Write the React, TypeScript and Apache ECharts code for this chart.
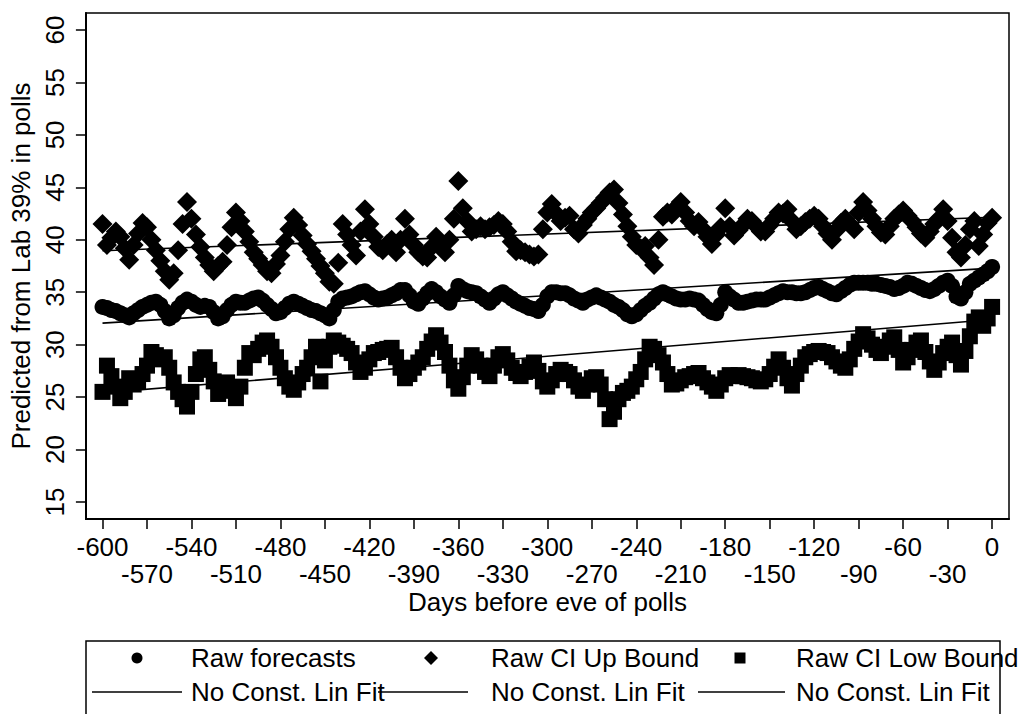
import React, { useEffect, useRef } from "react";
import * as echarts from "echarts";

// Days before eve of polls (every third day)
const days = [
  -600,-597,-594,-591,-588,-585,-582,-579,-576,-573,
  -570,-567,-564,-561,-558,-555,-552,-549,-546,-543,
  -540,-537,-534,-531,-528,-525,-522,-519,-516,-513,
  -510,-507,-504,-501,-498,-495,-492,-489,-486,-483,
  -480,-477,-474,-471,-468,-465,-462,-459,-456,-453,
  -450,-447,-444,-441,-438,-435,-432,-429,-426,-423,
  -420,-417,-414,-411,-408,-405,-402,-399,-396,-393,
  -390,-387,-384,-381,-378,-375,-372,-369,-366,-363,
  -360,-357,-354,-351,-348,-345,-342,-339,-336,-333,
  -330,-327,-324,-321,-318,-315,-312,-309,-306,-303,
  -300,-297,-294,-291,-288,-285,-282,-279,-276,-273,
  -270,-267,-264,-261,-258,-255,-252,-249,-246,-243,
  -240,-237,-234,-231,-228,-225,-222,-219,-216,-213,
  -210,-207,-204,-201,-198,-195,-192,-189,-186,-183,
  -180,-177,-174,-171,-168,-165,-162,-159,-156,-153,
  -150,-147,-144,-141,-138,-135,-132,-129,-126,-123,
  -120,-117,-114,-111,-108,-105,-102,-99,-96,-93,
  -90,-87,-84,-81,-78,-75,-72,-69,-66,-63,
  -60,-57,-54,-51,-48,-45,-42,-39,-36,-33,
  -30,-27,-24,-21,-18,-15,-12,-9,-6,-3,
  0
];

const rawForecasts = [
  33.6,33.5,33.3,33.2,33.0,32.8,32.6,33.0,33.3,33.6,
  33.8,34.0,34.1,33.8,33.2,32.5,32.8,33.5,34.0,34.3,
  34.1,33.8,33.6,33.7,33.6,33.1,32.5,32.7,33.3,33.8,
  34.1,34.0,34.0,34.2,34.4,34.5,34.2,33.8,33.4,33.0,
  33.1,33.5,33.9,34.1,33.9,33.7,33.5,33.3,33.2,33.0,
  32.8,32.5,33.3,34.1,34.4,34.5,34.6,34.8,35.0,35.1,
  34.8,34.5,34.3,34.4,34.5,34.7,34.9,35.2,35.2,34.7,
  34.1,33.9,34.4,34.9,35.3,35.0,34.6,34.3,34.0,34.7,
  35.6,35.3,35.1,35.0,34.9,34.6,34.3,34.0,34.4,34.8,
  35.0,34.7,34.4,34.1,33.9,33.7,33.5,33.4,33.2,33.8,
  34.6,35.0,35.0,34.9,34.9,34.7,34.4,34.2,34.0,34.3,
  34.5,34.7,34.5,34.3,34.1,33.8,33.6,33.3,32.9,32.7,
  32.9,33.3,33.7,34.0,34.4,34.8,35.0,34.8,34.6,34.4,
  34.3,34.3,34.4,34.3,34.2,33.8,33.4,33.1,33.0,33.8,
  35.0,34.6,34.3,34.0,34.0,34.1,34.2,34.3,34.3,34.3,
  34.5,34.7,34.9,35.1,35.0,35.0,34.9,34.9,35.0,35.2,
  35.4,35.5,35.3,35.1,34.9,34.8,35.1,35.4,35.7,35.9,
  35.9,35.9,35.9,35.8,35.8,35.7,35.6,35.5,35.3,35.4,
  35.6,35.9,35.8,35.6,35.4,35.2,35.1,35.3,35.6,35.9,
  36.1,35.6,34.6,34.4,35.0,35.8,36.1,36.4,36.7,37.0,
  37.4
];

const ciUpBound = [
  41.5,39.5,40.2,40.8,40.3,39.2,38.1,39.5,40.6,41.6,
  41.2,40.0,39.0,38.0,37.0,36.2,36.8,39.0,41.5,43.6,
  42.0,40.5,39.3,38.3,37.6,37.0,37.5,37.9,39.5,41.2,
  42.6,41.8,40.8,39.8,38.8,38.2,37.6,37.0,36.8,37.7,
  38.5,39.8,41.0,42.1,41.4,40.4,39.6,38.9,38.2,37.5,
  36.8,36.0,35.8,37.8,41.5,40.5,39.5,38.5,40.8,42.9,
  41.5,40.3,39.3,39.0,39.6,40.0,38.8,40.0,42.0,40.5,
  39.5,38.8,38.4,38.3,39.3,40.3,39.5,38.8,40.0,42.0,
  45.6,43.0,41.8,40.8,41.0,41.3,41.0,41.2,41.4,41.8,
  41.5,40.8,39.8,38.9,39.0,38.8,38.6,38.4,38.6,41.0,
  42.6,43.4,42.5,41.8,42.1,42.3,41.0,40.6,41.4,42.0,
  42.6,43.0,43.5,44.0,44.5,44.8,43.5,42.4,41.3,40.3,
  39.5,39.2,39.4,38.3,37.6,40.0,42.2,42.6,42.4,43.1,
  43.6,42.6,41.8,41.3,41.7,41.0,40.3,39.6,40.5,41.2,
  43.0,41.3,40.4,40.9,41.4,42.0,41.8,41.3,40.8,40.8,
  41.4,42.0,42.6,42.5,42.9,41.8,41.0,41.3,41.7,42.0,
  42.3,42.0,41.3,40.6,40.0,40.9,41.6,42.0,41.5,41.0,
  42.6,43.6,42.8,42.0,41.3,40.7,40.5,41.3,42.0,42.4,
  42.8,42.3,41.8,41.2,40.6,40.2,40.8,41.5,42.0,42.9,
  41.8,40.2,38.8,38.3,39.5,41.0,41.8,39.4,40.5,41.6,
  42.1
];

const ciLowBound = [
  25.5,28.0,27.0,26.0,24.9,25.5,26.8,26.2,26.5,27.2,
  28.0,29.3,29.0,28.6,28.8,27.8,26.4,25.5,24.8,24.1,
  25.5,27.2,28.6,28.8,27.6,26.5,25.3,25.6,26.4,25.8,
  24.9,26.0,27.8,29.2,29.0,29.6,30.2,30.4,29.8,28.8,
  27.8,26.8,26.0,25.7,26.4,27.2,27.8,28.8,29.8,26.5,
  28.5,29.8,30.4,30.2,29.9,29.6,29.2,28.3,27.4,27.8,
  28.6,29.2,29.3,29.5,29.6,29.7,28.8,27.8,26.8,27.2,
  27.8,28.3,28.8,29.6,30.3,30.9,30.2,29.3,28.0,26.6,
  25.8,26.9,28.0,29.0,28.6,28.0,27.4,27.0,28.0,28.8,
  29.1,28.5,27.8,27.3,27.0,27.4,27.9,28.3,27.5,26.5,
  26.0,26.6,27.2,27.6,27.4,27.2,26.6,26.0,25.6,26.2,
  26.8,26.9,26.2,24.8,22.9,23.6,24.8,25.4,25.6,26.0,
  26.7,27.4,28.6,29.8,29.6,29.0,28.3,27.2,26.2,26.3,
  26.6,26.9,27.0,27.2,27.3,26.8,26.4,26.0,25.6,26.2,
  26.8,27.1,27.0,27.1,27.0,26.9,26.8,26.6,26.5,26.7,
  27.2,27.9,28.6,27.8,26.8,26.1,27.2,28.0,28.8,29.1,
  29.3,29.4,29.3,29.2,28.8,28.4,28.0,27.8,28.6,29.6,
  30.3,31.0,30.6,30.0,29.5,29.2,29.8,30.4,30.7,29.5,
  28.3,28.8,29.5,30.2,30.4,29.3,28.4,27.6,28.3,29.2,
  29.8,30.2,29.0,28.1,29.4,30.8,32.2,32.6,31.8,32.5,
  33.6
];

// Linear fits (endpoints)
const fitDays = [-600, 0];
const rawFit = [32.05, 37.3];
const upFit = [38.95, 42.15];
const lowFit = [25.4, 32.4];

const xTicks = [-600,-570,-540,-510,-480,-450,-420,-390,-360,-330,-300,-270,-240,-210,-180,-150,-120,-90,-60,-30,0];
const xLabelsRow1 = [-600,-540,-480,-420,-360,-300,-240,-180,-120,-60,0];
const xLabelsRow2 = [-570,-510,-450,-390,-330,-270,-210,-150,-90,-30];
const yTicks = [15,20,25,30,35,40,45,50,55,60];

const xTitle = "Days before eve of polls";
const yTitle = "Predicted from Lab 39% in polls";
const seriesNames = ["Raw forecasts", "Raw CI Up Bound", "Raw CI Low Bound"];
const fitName = "No Const. Lin Fit";

const FONT = "'Liberation Sans', Arial, Helvetica, sans-serif";

export default function App() {
  const ref = useRef<HTMLDivElement>(null);

  useEffect(() => {
    const chart = echarts.init(ref.current!, null, { renderer: "svg" });
    const pts = (ys: number[]) => days.map((d, i) => [d, ys[i]]);
    const fit = (ys: number[]) => fitDays.map((d, i) => [d, ys[i]]);

    const scatter = (name: string, ys: number[], symbol: string, size: number) => ({
      type: "scatter",
      name,
      data: pts(ys),
      symbol,
      symbolSize: size,
      itemStyle: { color: "#000", opacity: 1 },
      emphasis: { disabled: true },
      silent: true,
      z: 2,
    });
    const line = (ys: number[]) => ({
      type: "line",
      name: fitName,
      data: fit(ys),
      showSymbol: false,
      lineStyle: { color: "#000", width: 1.6 },
      emphasis: { disabled: true },
      silent: true,
      z: 3,
    });

    const legendFont = 26;
    const r1 = 658;
    const r2 = 692;
    const txt = (x: number, y: number, text: string) => ({
      type: "text",
      x,
      y,
      silent: true,
      style: {
        text,
        fontSize: legendFont,
        fontFamily: FONT,
        fill: "#000",
        align: "left",
        verticalAlign: "middle",
      },
    });
    const seg = (x1: number, x2: number, y: number) => ({
      type: "line",
      silent: true,
      shape: { x1, y1: y, x2, y2: y },
      style: { stroke: "#000", lineWidth: 1.6 },
    });

    const labelStyle = {
      color: "#000",
      fontSize: 26,
      fontFamily: FONT,
      showMinLabel: true,
      showMaxLabel: true,
      hideOverlap: false,
    };

    chart.setOption({
      animation: false,
      backgroundColor: "#fff",
      textStyle: { fontFamily: FONT },
      grid: {
        left: 78,
        top: 13,
        width: 931,
        height: 506,
        show: true,
        borderColor: "#000",
        borderWidth: 1.5,
        backgroundColor: "transparent",
      },
      xAxis: [
        {
          type: "value",
          min: -611.2,
          max: 11.4,
          position: "bottom",
          splitLine: { show: false },
          axisLine: { show: true, onZero: false, lineStyle: { color: "#000", width: 2 } },
          axisTick: { show: true, customValues: xTicks, length: 10, lineStyle: { color: "#000", width: 1.5 } },
          axisLabel: { ...labelStyle, customValues: xLabelsRow1, margin: 14.5 },
          name: xTitle,
          nameLocation: "middle",
          nameGap: 70,
          nameTextStyle: { color: "#000", fontSize: 26, lineHeight: 26, fontFamily: FONT },
        },
        {
          type: "value",
          min: -611.2,
          max: 11.4,
          position: "bottom",
          offset: 0,
          splitLine: { show: false },
          axisLine: { show: false, onZero: false },
          axisTick: { show: false },
          axisLabel: { ...labelStyle, customValues: xLabelsRow2, margin: 41.5 },
        },
      ],
      yAxis: {
        type: "value",
        min: 13.38,
        max: 61.62,
        splitLine: { show: false },
        axisLine: { show: true, onZero: false, lineStyle: { color: "#000", width: 2 } },
        axisTick: { show: true, customValues: yTicks, length: 10, lineStyle: { color: "#000", width: 1.5 } },
        axisLabel: { ...labelStyle, customValues: yTicks, rotate: 90, margin: 18 },
        name: yTitle,
        nameLocation: "middle",
        nameGap: 42,
        nameRotate: 90,
        nameTextStyle: { color: "#000", fontSize: 26, fontFamily: FONT },
      },
      series: [
        scatter(seriesNames[0], rawForecasts, "circle", 16),
        scatter(seriesNames[1], ciUpBound, "diamond", 20),
        scatter(seriesNames[2], ciLowBound, "rect", 16),
        line(rawFit),
        line(upFit),
        line(lowFit),
      ],
      graphic: [
        {
          type: "rect",
          silent: true,
          shape: { x: 86, y: 641, width: 914, height: 90 },
          style: { fill: "none", stroke: "#000", lineWidth: 1.5 },
        },
        { type: "circle", silent: true, shape: { cx: 137, cy: r1, r: 5.5 }, style: { fill: "#000" } },
        {
          type: "polygon",
          silent: true,
          shape: { points: [[431, r1 - 7], [438, r1], [431, r1 + 7], [424, r1]] },
          style: { fill: "#000" },
        },
        { type: "rect", silent: true, shape: { x: 734.5, y: r1 - 5.5, width: 11, height: 11 }, style: { fill: "#000" } },
        txt(191, r1, seriesNames[0]),
        txt(491, r1, seriesNames[1]),
        txt(796, r1, seriesNames[2]),
        seg(92, 182, r2),
        seg(378, 468, r2),
        seg(698, 785, r2),
        txt(191, r2, fitName),
        txt(491, r2, fitName),
        txt(796, r2, fitName),
      ],
    });
    return () => chart.dispose();
  }, []);

  return (
    <div
      ref={ref}
      style={{ position: "fixed", left: 0, top: 0, width: 1023, height: 714, background: "#fff" }}
    />
  );
}
